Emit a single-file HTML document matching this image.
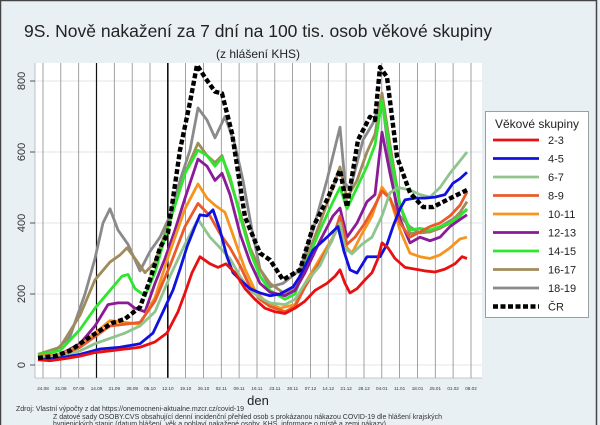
<!DOCTYPE html>
<html><head><meta charset="utf-8"><style>
body{margin:0;background:#fff}
svg{display:block;font-family:"Liberation Sans",sans-serif}
</style></head><body>
<svg width="600" height="425" viewBox="0 0 600 425" xmlns="http://www.w3.org/2000/svg">
<rect x="0" y="0" width="600" height="425" fill="#e9f0f4"/>
<rect x="0.5" y="0.5" width="596" height="430" fill="none" stroke="#444" stroke-width="1.5"/>
<text x="258" y="37" font-size="17.5" text-anchor="middle" fill="#222">9S. Nově nakažení za 7 dní na 100 tis. osob věkové skupiny</text>
<text x="258" y="58" font-size="12" text-anchor="middle" fill="#222">(z hlášení KHS)</text>
<rect x="35" y="63" width="447" height="315" fill="#fff"/>
<g stroke="#e2e6ea" stroke-width="1">
<line x1="35" x2="482" y1="365" y2="365"/><line x1="35" x2="482" y1="294" y2="294"/><line x1="35" x2="482" y1="223" y2="223"/><line x1="35" x2="482" y1="152" y2="152"/><line x1="35" x2="482" y1="81" y2="81"/>
</g>
<g stroke="#8a8a8a" stroke-width="0.8">
<line x1="43" x2="43" y1="63" y2="378"/><line x1="60.8" x2="60.8" y1="63" y2="378"/><line x1="78.7" x2="78.7" y1="63" y2="378"/><line x1="114.3" x2="114.3" y1="63" y2="378"/><line x1="132.2" x2="132.2" y1="63" y2="378"/><line x1="150" x2="150" y1="63" y2="378"/><line x1="185.6" x2="185.6" y1="63" y2="378"/><line x1="203.5" x2="203.5" y1="63" y2="378"/><line x1="221.3" x2="221.3" y1="63" y2="378"/><line x1="239.1" x2="239.1" y1="63" y2="378"/><line x1="257" x2="257" y1="63" y2="378"/><line x1="274.8" x2="274.8" y1="63" y2="378"/><line x1="292.6" x2="292.6" y1="63" y2="378"/><line x1="310.5" x2="310.5" y1="63" y2="378"/><line x1="328.3" x2="328.3" y1="63" y2="378"/><line x1="346.1" x2="346.1" y1="63" y2="378"/><line x1="364" x2="364" y1="63" y2="378"/><line x1="381.8" x2="381.8" y1="63" y2="378"/><line x1="399.6" x2="399.6" y1="63" y2="378"/><line x1="417.5" x2="417.5" y1="63" y2="378"/><line x1="435.3" x2="435.3" y1="63" y2="378"/><line x1="453.1" x2="453.1" y1="63" y2="378"/><line x1="471" x2="471" y1="63" y2="378"/>
</g>
<line x1="96.5" x2="96.5" y1="63" y2="378" stroke="#111" stroke-width="1.2"/>
<line x1="167.8" x2="167.8" y1="63" y2="378" stroke="#111" stroke-width="1.6"/>
<line x1="35" x2="35" y1="63" y2="378" stroke="#999" stroke-width="0.6"/>
<line x1="35" x2="482" y1="378" y2="378" stroke="#999" stroke-width="0.6"/>
<g stroke="#333" stroke-width="0.8">
<line x1="30" x2="35" y1="365" y2="365"/><line x1="30" x2="35" y1="294" y2="294"/><line x1="30" x2="35" y1="223" y2="223"/><line x1="30" x2="35" y1="152" y2="152"/><line x1="30" x2="35" y1="81" y2="81"/>
</g>
<g font-size="11" fill="#333" text-anchor="middle">
<text transform="translate(25,365) rotate(-90)">0</text>
<text transform="translate(25,294) rotate(-90)">200</text>
<text transform="translate(25,223) rotate(-90)">400</text>
<text transform="translate(25,152) rotate(-90)">600</text>
<text transform="translate(25,81) rotate(-90)">800</text>
</g>
<g font-size="4.6" fill="#333" text-anchor="middle">
<text x="43" y="390">24.08</text><text x="60.8" y="390">31.08</text><text x="78.7" y="390">07.09</text><text x="96.5" y="390">14.09</text><text x="114.3" y="390">21.09</text><text x="132.2" y="390">28.09</text><text x="150" y="390">05.10</text><text x="167.8" y="390">12.10</text><text x="185.6" y="390">19.10</text><text x="203.5" y="390">26.10</text><text x="221.3" y="390">02.11</text><text x="239.1" y="390">09.11</text><text x="257" y="390">16.11</text><text x="274.8" y="390">23.11</text><text x="292.6" y="390">30.11</text><text x="310.5" y="390">07.12</text><text x="328.3" y="390">14.12</text><text x="346.1" y="390">21.12</text><text x="364" y="390">28.12</text><text x="381.8" y="390">04.01</text><text x="399.6" y="390">11.01</text><text x="417.5" y="390">18.01</text><text x="435.3" y="390">25.01</text><text x="453.1" y="390">01.02</text><text x="471" y="390">08.02</text>
</g>
<text x="258" y="405" font-size="13" text-anchor="middle" fill="#222">den</text>
<g font-size="7" fill="#333">
<text x="16" y="411">Zdroj: Vlastní výpočty z dat https://onemocneni-aktualne.mzcr.cz/covid-19</text>
<text x="53" y="419">Z datové sady OSOBY.CVS obsahující denní incidenční přehled osob s prokázanou nákazou COVID-19 dle hlášení krajských</text>
<text x="53" y="426">hygienických stanic (datum hlášení, věk a pohlaví nakažené osoby, KHS, informace o místě a zemi nákazy).</text>
</g>
<g transform="matrix(1,0,0,-0.355,0,365)" fill="none" stroke-linejoin="round">
<polyline vector-effect="non-scaling-stroke" stroke="#8a8a8a" stroke-width="2.8" points="38,30 55,40 70,80 85,200 95,300 103,400 110,440 118,380 128,340 140,265 150,320 160,360 170,420 180,520 190,605 198,724 207,690 215,640 225,700 235,620 243,520 252,380 260,270 270,220 283,230 300,268 313,380 327,521 340,670 345,513 350,493 363,634 373,681 382,755 387,634 397,428 410,389 420,372 430,375 440,389 450,406 467,437"/>
<polyline vector-effect="non-scaling-stroke" stroke="#a08c5a" stroke-width="2.8" points="38,30 60,50 80,140 95,240 110,290 120,310 127,330 135,300 145,260 155,290 165,370 175,450 185,540 198,625 207,590 215,570 222,590 230,520 240,430 250,330 260,270 270,230 285,200 295,215 305,290 320,400 333,500 340,558 347,470 357,520 367,600 375,650 382,766 390,620 400,450 410,370 420,375 430,375 440,385 450,400 460,430 467,460"/>
<polyline vector-effect="non-scaling-stroke" stroke="#2ee62e" stroke-width="2.8" points="38,30 60,40 80,100 95,160 110,210 122,250 128,255 135,215 145,195 155,260 165,360 175,450 185,540 198,605 207,590 215,560 222,585 230,530 240,420 250,320 260,250 270,210 285,185 295,200 305,280 320,380 333,460 340,500 347,440 357,500 367,560 375,620 382,746 390,600 400,450 410,380 420,385 430,380 440,390 450,400 460,420 467,440"/>
<polyline vector-effect="non-scaling-stroke" stroke="#8a1a98" stroke-width="2.8" points="38,25 60,30 80,60 95,110 108,170 118,175 128,175 135,160 145,150 155,230 165,300 175,380 185,470 198,580 207,560 215,520 222,540 230,480 240,370 250,290 260,230 270,205 285,195 295,210 305,260 320,350 333,420 340,442 347,360 357,400 367,460 375,480 382,656 390,540 400,410 410,344 420,360 430,350 440,360 450,390 460,410 467,423"/>
<polyline vector-effect="non-scaling-stroke" stroke="#f5951f" stroke-width="2.8" points="38,25 60,30 80,55 95,90 110,125 125,120 140,115 155,190 170,320 185,440 198,510 207,470 215,450 225,430 235,350 245,270 255,210 265,180 280,160 295,170 305,230 320,300 333,360 340,400 347,330 352,315 362,370 372,420 382,501 390,470 400,380 410,315 420,305 430,300 440,310 450,330 460,355 467,360"/>
<polyline vector-effect="non-scaling-stroke" stroke="#ea5a2a" stroke-width="2.8" points="38,20 60,25 80,50 95,80 110,110 125,115 140,120 155,180 170,280 185,390 198,455 210,420 220,370 230,330 240,280 250,220 260,185 270,165 285,150 295,165 305,220 320,290 332,350 340,420 347,340 355,360 365,400 375,450 382,490 390,470 400,400 410,360 420,375 430,390 440,400 450,420 460,450 467,487"/>
<polyline vector-effect="non-scaling-stroke" stroke="#8fc48f" stroke-width="2.8" points="38,20 60,25 80,40 95,60 110,75 125,90 140,110 155,150 170,250 185,340 198,410 210,360 220,330 230,300 240,250 250,210 260,190 270,175 285,170 295,185 305,230 320,280 335,370 340,400 345,330 352,313 362,340 372,360 382,420 390,485 398,500 410,493 420,480 430,473 440,500 450,540 460,575 467,600"/>
<polyline vector-effect="non-scaling-stroke" stroke="#1010e0" stroke-width="2.8" points="38,15 60,20 80,30 100,45 120,50 140,60 153,90 163,150 173,211 180,270 187,333 195,390 200,423 207,420 213,437 220,380 227,305 233,260 240,240 250,215 260,203 270,195 280,200 293,220 300,250 313,324 327,360 338,390 344,320 350,268 357,259 367,305 380,305 387,340 393,390 400,440 405,465 415,470 425,470 435,473 445,480 453,512 460,525 467,543"/>
<polyline vector-effect="non-scaling-stroke" stroke="#e81010" stroke-width="2.8" points="38,15 50,12 65,18 80,25 95,35 110,40 125,45 140,50 155,65 167,90 178,150 185,203 192,260 200,305 210,285 218,275 226,285 235,260 245,215 255,185 265,160 275,150 285,145 295,160 305,180 315,210 327,230 335,250 340,268 345,230 350,203 357,215 365,240 372,260 378,300 382,344 388,330 395,300 405,275 415,270 425,265 435,262 445,270 455,285 462,305 467,300"/>
<polyline vector-effect="non-scaling-stroke" stroke="#000" stroke-width="4.4" stroke-dasharray="5,2.5" points="38,20 55,25 70,40 85,70 96,90 112,118 125,130 140,163 150,240 160,330 168,372 180,605 190,740 197,845 205,810 215,770 222,765 232,653 245,417 260,315 270,296 283,240 300,268 313,389 327,465 340,549 347,445 358,634 370,699 375,690 380,839 387,811 397,586 410,485 423,445 433,445 447,465 467,493"/>
</g>
<rect x="485.5" y="111.5" width="103" height="206" fill="#fff" stroke="#888" stroke-width="0.8"/>
<text x="537" y="128" font-size="12" text-anchor="middle" fill="#222">Věkové skupiny</text>
<g stroke-width="2.8">
<line x1="493" x2="539" y1="140" y2="140" stroke="#e81010"/>
<line x1="493" x2="539" y1="158.5" y2="158.5" stroke="#1010e0"/>
<line x1="493" x2="539" y1="177" y2="177" stroke="#8fc48f"/>
<line x1="493" x2="539" y1="195.5" y2="195.5" stroke="#ea5a2a"/>
<line x1="493" x2="539" y1="214" y2="214" stroke="#f5951f"/>
<line x1="493" x2="539" y1="232.5" y2="232.5" stroke="#8a1a98"/>
<line x1="493" x2="539" y1="251" y2="251" stroke="#2ee62e"/>
<line x1="493" x2="539" y1="269.5" y2="269.5" stroke="#a08c5a"/>
<line x1="493" x2="539" y1="288" y2="288" stroke="#8a8a8a"/>
<line x1="493" x2="539" y1="306.5" y2="306.5" stroke="#000" stroke-width="4.4" stroke-dasharray="5,2.5"/>
</g>
<g font-size="11" fill="#222">
<text x="548" y="144">2-3</text><text x="548" y="162.5">4-5</text><text x="548" y="181">6-7</text><text x="548" y="199.5">8-9</text><text x="548" y="218">10-11</text><text x="548" y="236.5">12-13</text><text x="548" y="255">14-15</text><text x="548" y="273.5">16-17</text><text x="548" y="292">18-19</text><text x="548" y="310.5">ČR</text>
</g>
</svg>
</body></html>
